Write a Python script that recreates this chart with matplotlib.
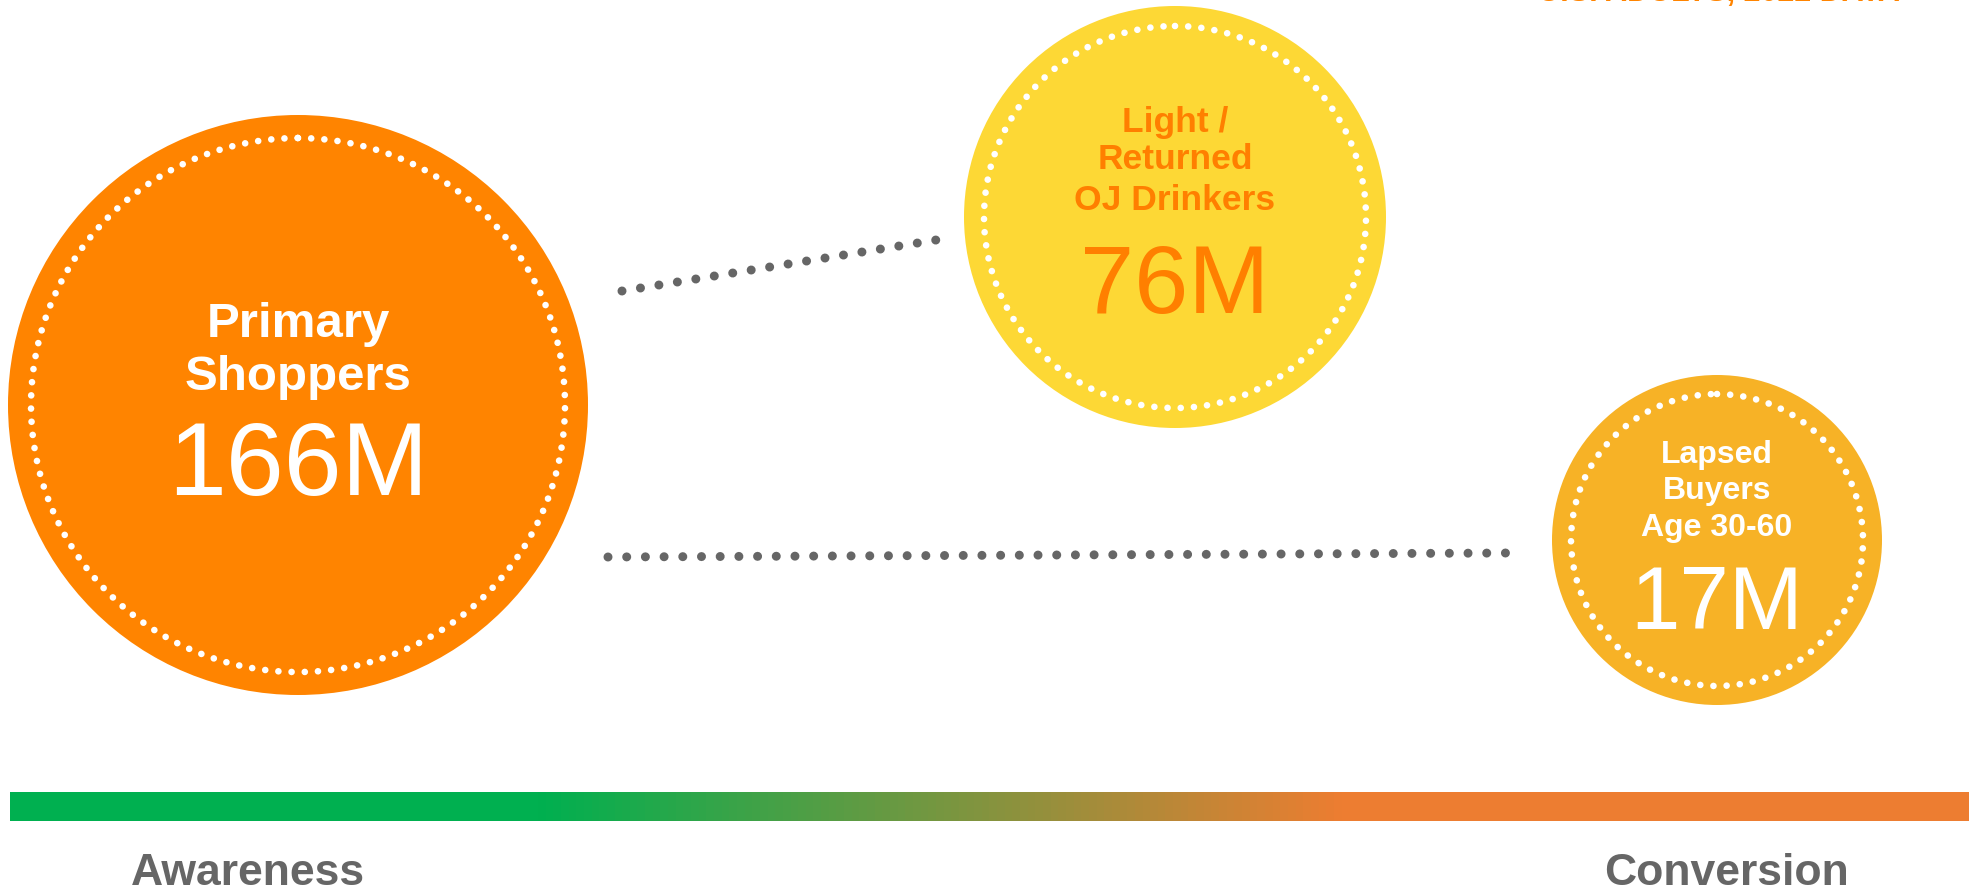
import numpy as np
import matplotlib
matplotlib.use("Agg")
import matplotlib.pyplot as plt
from matplotlib.patches import Circle
from matplotlib.colors import LinearSegmentedColormap

plt.rcParams['font.family'] = ['Liberation Sans', 'DejaVu Sans']

# segment data
titles = ["Primary\nShoppers", "Light /\nReturned\nOJ Drinkers", "Lapsed\nBuyers\nAge 30-60"]
values = [166, 76, 17]
value_labels = [f"{v}M" for v in values]
axis_labels = ["Awareness", "Conversion"]
subtitle = "U.S. ADULTS, 2022 DATA"

# layout (pixel space of a 1983x893 canvas)
centers = [(298, 405), (1175, 217), (1717, 540)]
radii = [290, 211, 165]
ring_radii = [267, 191, 146]
fills = ["#FF8400", "#FDD835", "#F7B226"]
text_colors = ["white", "#FF7F00", "white"]
title_sizes = [35.5, 25.5, 23]
title_baselines = [[337, 390], [132, 169, 210], [463, 499, 536]]
value_sizes = [75, 70, 64]
value_baselines = [495, 313, 629]

connectors_x = [[622, 936], [608, 1506]]
connectors_y = [[291, 240], [557, 553]]

W, H = 1983, 893
fig = plt.figure(figsize=(W / 100, H / 100), dpi=100)
ax = fig.add_axes([0, 0, 1, 1])
ax.set_xlim(0, W)
ax.set_ylim(H, 0)
ax.set_aspect('equal')
ax.axis('off')

# dotted connectors
for xs, ys in zip(connectors_x, connectors_y):
    ax.plot(xs, ys, color="#666666", lw=6.5, linestyle=(0, (0.001, 2.07)),
            dash_capstyle='round', zorder=1)

for i in range(3):
    cx, cy = centers[i]
    ax.add_patch(Circle((cx, cy), radii[i], facecolor=fills[i], edgecolor='none', zorder=2))
    ax.add_patch(Circle((cx, cy), ring_radii[i], fill=False, edgecolor='white', lw=4.8,
                        linestyle=(0, (0.001, 1.98)), capstyle='round', zorder=3))
    for line, yb in zip(titles[i].split("\n"), title_baselines[i]):
        ax.text(cx, yb, line, ha='center', va='baseline', fontsize=title_sizes[i],
                fontweight='bold', color=text_colors[i], zorder=4)
    ax.text(cx, value_baselines[i], value_labels[i], ha='center', va='baseline',
            fontsize=value_sizes[i], color=text_colors[i], zorder=4)

# gradient bar
cmap = LinearSegmentedColormap.from_list(
    "funnel", [(0, "#00B050"), (0.27, "#00B050"), (0.68, "#ED7D31"), (1, "#ED7D31")])
grad = np.linspace(0, 1, 512).reshape(1, -1)
ax.imshow(grad, cmap=cmap, aspect='auto', extent=[10, 1969, 821, 792], zorder=1)
ax.set_xlim(0, W)
ax.set_ylim(H, 0)

ax.text(248, 885, axis_labels[0], ha='center', va='baseline', fontsize=32,
        fontweight='bold', color="#666666")
ax.text(1726, 885, axis_labels[1], ha='center', va='baseline', fontsize=32,
        fontweight='bold', color="#666666")

# header text, mostly cut off by the top edge
ax.text(1900, 1.5, subtitle, ha='right', va='baseline', fontsize=22,
        fontweight='bold', color="#FF8400", clip_on=False)

fig.savefig("out.png", dpi=100)
